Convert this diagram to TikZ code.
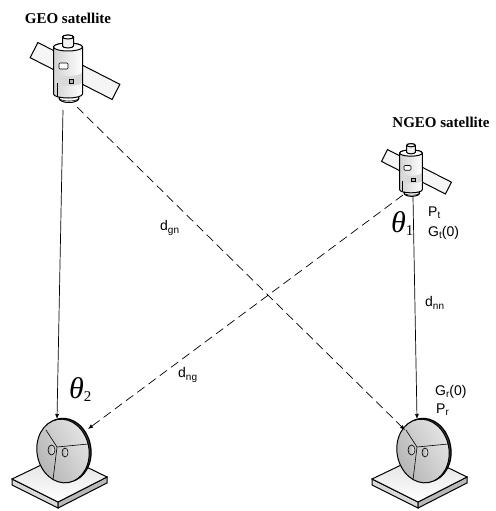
\documentclass[tikz,border=0pt]{standalone}
\usepackage{fontspec}
\setmainfont{Liberation Serif}
\setsansfont{Liberation Sans}
\usetikzlibrary{arrows.meta,calc}

\newcommand{\lowsub}[1]{\raisebox{-0.3ex}{\fontsize{10}{10}\selectfont #1}}
\newcommand{\angsub}[1]{\raisebox{-0.25ex}{\upshape\fontsize{15}{15}\selectfont #1}}

\begin{document}
\begin{tikzpicture}[x=1pt, y=-1pt,
		satlabel/.style={font=\fontsize{15}{15}\selectfont\bfseries, inner sep=0pt},
		lbl/.style={font=\sffamily\fontsize{14}{14}\selectfont, inner sep=0pt, anchor=west},
		angle/.style={font=\fontsize{30}{30}\selectfont\itshape, inner sep=0pt, anchor=base west},
		link/.style={line width=0.7pt, -{Latex[length=5pt,width=4pt]}},
		dlink/.style={link, dash pattern=on 9pt off 5pt},
		outline/.style={draw=black, line width=1pt},
		thin/.style={draw=black, line width=0.6pt},
		pics/sat/.style={code={
			\draw[outline, fill=gray!8, rotate around={-27:(7,1)}] (-39,-7.5) rectangle (53,9.5);
			\draw[outline, fill=white] (-9,28) .. controls (-9,34) and (11,34) .. (11,28)
				arc[start angle=0, end angle=-180, x radius=10, y radius=3] -- cycle;
			\draw[thin] (-9,28) arc[start angle=180, end angle=0, x radius=10, y radius=3];
			\fill[left color=gray!35, right color=white] (-14.5,-23) -- (-14.5,24)
				arc[start angle=180, end angle=0, x radius=14.5, y radius=4] -- (14.5,-23)
				arc[start angle=0, end angle=-180, x radius=14.5, y radius=4] -- cycle;
			\fill[gray!30] (-14,2) -- (-14,12) arc[start angle=180, end angle=0, x radius=14, y radius=4]
				-- (14,2) arc[start angle=0, end angle=180, x radius=14, y radius=4] -- cycle;
			\draw[outline] (-14.5,-23) -- (-14.5,24)
				arc[start angle=180, end angle=0, x radius=14.5, y radius=4] -- (14.5,-23)
				arc[start angle=0, end angle=-180, x radius=14.5, y radius=4] -- cycle;
			\draw[outline, fill=white] (0,-23) ellipse[x radius=14.5, y radius=4];
			\draw[thin, fill=white, rounded corners=1pt] (-9,-7) rectangle (0,-1);
			\draw[thin, fill=gray!60] (1,9) rectangle (5,13);
			\draw[thin] (-11,13) -- (-11,26);
			\draw[outline, fill=gray!10] (-5.5,-33) -- (-5.5,-24)
				arc[start angle=180, end angle=0, x radius=5.5, y radius=2] -- (5.5,-33)
				arc[start angle=0, end angle=-180, x radius=5.5, y radius=2] -- cycle;
			\draw[outline, fill=white] (0,-33) ellipse[x radius=5.5, y radius=2];
		}},
		pics/station/.style={code={
			\draw[outline, fill=gray!30] (-51,28) -- (-5,51) -- (-5,57) -- (-51,34) -- cycle;
			\draw[outline, fill=gray!55] (-5,51) -- (44,26) -- (44,32) -- (-5,57) -- cycle;
			\draw[outline, top color=gray!25, bottom color=white] (-51,28) -- (-5,51) -- (44,26) -- (-1,4) -- cycle;
			\draw[outline, line width=1.2pt, fill=black!75, rotate=10] (2,-0.5) ellipse[x radius=26, y radius=32];
			\draw[outline, left color=gray!60, right color=gray!20, shading angle=120, rotate=10] (0,0) ellipse[x radius=26, y radius=32];
			\draw[thin] (-6,-4) -- (-17,-21) (-6,-4) -- (25,-7) (-6,-4) -- (-10,29);
			\draw[thin, left color=gray!70, right color=gray!10] (-11.5,-1) ellipse[x radius=3.5, y radius=5];
			\draw[thin, left color=gray!70, right color=gray!10] (2,1.5) ellipse[x radius=3, y radius=4.5];
			\coordinate (-top) at (-6,-32);
			\coordinate (-rimR) at (25,-22);
			\coordinate (-rimL) at (-18,-21);
		}}]
	\useasboundingbox (0,0) rectangle (495,511);

	\pic (geo) at (68,70) {sat};
	\pic (ngeo) [scale=0.78] at (411,171) {sat};
	\pic (gsL) at (63,451) {station};
	\pic (gsR) at (423,451) {station};

	\coordinate (geoV) at (63,110);
	\coordinate (geoD) at (77,107);
	\coordinate (ngeoV) at (413,197);
	\coordinate (ngeoD) at (403,195);

	\draw [link] (geoV) -- (gsL-top);
	\draw [dlink] (geoD) -- (gsR-rimL);
	\draw [link] (ngeoV) -- (gsR-top);
	\draw [dlink] (ngeoD) -- (gsL-rimR);

	\node (geoLbl) [satlabel] at (68,18) {GEO satellite};
	\node (ngeoLbl) [satlabel] at (441,122) {NGEO satellite};

	\node (th1) [angle] at (391,232) {θ\angsub{1}};
	\node (th2) [angle] at (69,398) {θ\angsub{2}};

	\node (dgn) [lbl] at (160,228) {d\lowsub{gn}};
	\node (dng) [lbl] at (178,375) {d\lowsub{ng}};
	\node (dnn) [lbl] at (425,303) {d\lowsub{nn}};
	\node (pt) [lbl] at (428,213) {P\lowsub{t}};
	\node (gt) [lbl] at ($(pt.west)+(0,20)$) {G\lowsub{t}(0)};
	\node (gr) [lbl] at (435,392) {G\lowsub{r}(0)};
	\node (pr) [lbl] at ($(gr.west)+(1,18)$) {P\lowsub{r}};
\end{tikzpicture}
\end{document}
